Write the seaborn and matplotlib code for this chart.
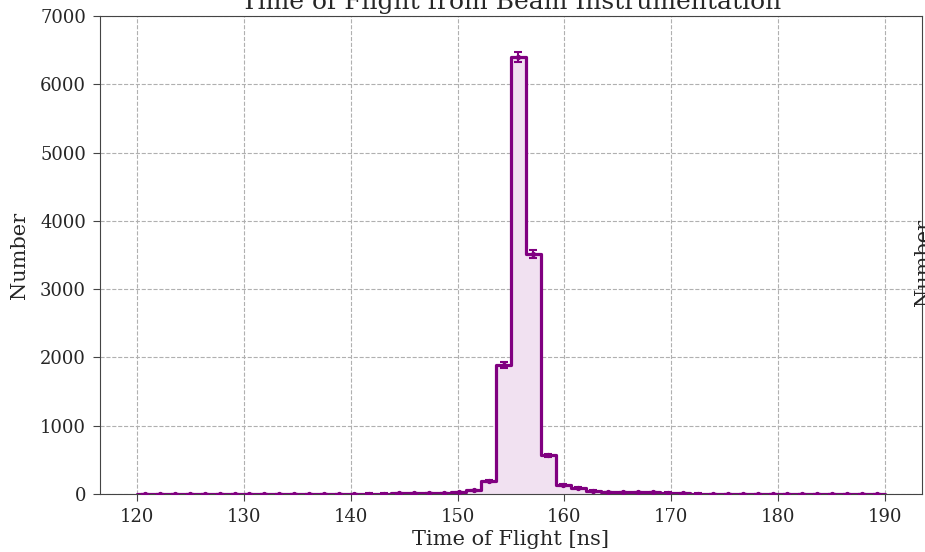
import numpy as np
import pandas as pd
import matplotlib
matplotlib.use("Agg")
import matplotlib.pyplot as plt
import seaborn as sns

# ---- data ----
bin_lo = 120.0
bin_hi = 190.0
n_bins = 50
counts = [4, 4, 4, 4, 4, 4, 4, 4, 4, 4,
          4, 4, 4, 5, 5, 6, 7, 8, 9, 12,
          15, 25, 55, 185, 1890, 6400, 3520, 565, 135, 92,
          50, 28, 22, 22, 22, 18, 8, 6, 5, 5,
          5, 4, 4, 4, 4, 4, 4, 4, 4, 4]
xticks = [120, 130, 140, 150, 160, 170, 180, 190]
yticks = [0, 1000, 2000, 3000, 4000, 5000, 6000, 7000]
title = "Time of Flight from Beam Instrumentation"
xlabel = "Time of Flight [ns]"
ylabel = "Number"

edges = np.linspace(bin_lo, bin_hi, n_bins + 1)
centers = 0.5 * (edges[:-1] + edges[1:])
counts = np.array(counts, dtype=float)
errs = np.sqrt(counts)
df = pd.DataFrame({"tof": centers, "n": counts})

sns.set_style("ticks")
plt.rcParams['font.family'] = ['DejaVu Serif']

fig = plt.figure(figsize=(9.25, 5.52), dpi=100)
ax = fig.add_axes([100/925, 1-494/552, 822/925, 478/552])

line_c = "#800080"
fill_c = "#f1e1f1"

sns.histplot(data=df, x="tof", weights="n", bins=list(edges), element="step", fill=True,
             color=fill_c, alpha=1.0, linewidth=0, ax=ax, zorder=2)
sns.histplot(data=df, x="tof", weights="n", bins=list(edges), element="step", fill=False,
             color=line_c, linewidth=2.3, ax=ax, zorder=3)
ax.errorbar(centers, counts, yerr=errs, fmt='o', color=line_c, markersize=2.8,
            capsize=3, elinewidth=1.5, capthick=1.5, zorder=4)

ax.set_xlim(116.5, 193.5)
ax.set_ylim(0, 7000)
ax.set_xticks(xticks)
ax.set_yticks(yticks)
ax.tick_params(labelsize=13, direction='out', length=5, pad=5, color='#444444')
ax.grid(True, linestyle='--', color='#b0b0b0', linewidth=0.8, zorder=0)
ax.set_axisbelow(True)
for s in ax.spines.values():
    s.set_color('#444444')
    s.set_visible(True)

ax.set_xlabel(xlabel, fontsize=15, labelpad=3)
ax.set_ylabel(ylabel, fontsize=15, labelpad=8)
ax.set_title(title, fontsize=18, pad=5)

fig.text(914/925, 1 - 262/552, ylabel, rotation=90, ha='left', va='center', fontsize=15)

fig.savefig("out.png", dpi=100)
